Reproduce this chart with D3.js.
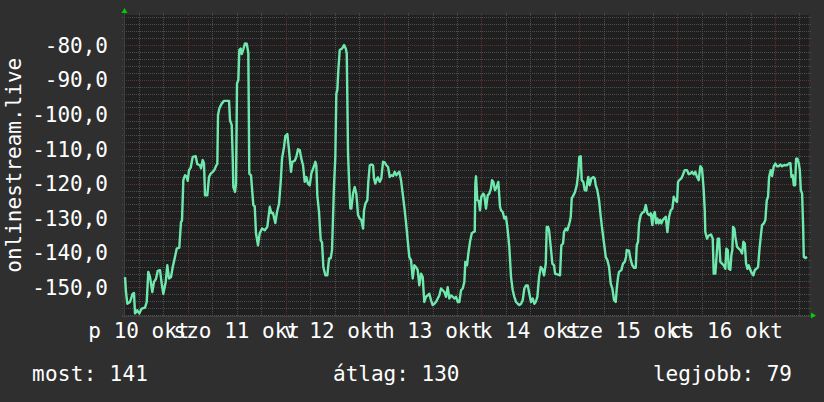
<!DOCTYPE html>
<html lang="hu">
<head>
<meta charset="utf-8">
<title>onlinestream.live</title>
<script src="https://cdn.jsdelivr.net/npm/d3@7"></script>
<style>
  html, body { margin: 0; padding: 0; background: #2f2f2f; }
  svg { display: block; }
  text { font-family: "DejaVu Sans Mono", monospace; fill: #ffffff; }
</style>
</head>
<body>
<script>
// ---- data (hours since start, value) ----
var hours = [
  0.25,0.49,0.81,1.47,2.13,2.45,2.70,3.26,3.75,4.34,5.15,5.57,5.96,6.38,6.94,7.36,7.85,8.27,8.83,9.25,
  9.64,10.23,10.62,11.04,11.53,11.95,12.34,12.93,13.56,13.98,14.23,14.55,14.96,15.38,15.62,15.94,16.36,16.85,17.59,17.98,
  18.64,18.89,19.30,19.62,19.87,20.43,20.85,21.27,21.76,22.15,22.57,22.89,23.06,23.38,23.96,24.53,25.76,26.00,26.42,26.66,
  26.81,27.23,27.47,27.72,28.04,28.28,28.63,28.87,29.26,29.68,30.10,30.49,30.73,31.15,31.72,32.06,32.38,32.80,
  32.86,33.28,33.85,34.51,35.15,35.74,36.13,36.54,37.11,37.53,38.02,38.44,38.76,39.25,39.57,40.06,40.47,40.96,41.28,41.87,
  42.26,42.68,43.10,43.49,43.91,44.32,44.72,45.13,45.55,45.94,46.53,46.92,47.17,47.41,47.83,48.25,48.57,48.89,49.38,49.87,
  50.29,50.70,51.02,51.27,51.51,51.83,52.08,52.32,52.57,52.91,53.48,53.97,54.39,54.63,54.95,55.19,55.51,55.76,56.17,56.59,
  56.98,57.40,57.82,58.21,58.63,58.87,59.19,59.68,59.92,60.27,60.66,61.08,61.32,61.64,62.06,62.30,62.72,63.11,63.53,63.95,
  64.34,64.76,65.17,65.56,65.98,66.39,66.79,
  67.13,67.52,67.94,68.35,68.75,69.16,69.58,69.97,70.39,70.81,71.20,71.62,72.03,72.43,72.84,73.26,73.65,74.07,74.49,74.88,
  75.30,75.71,76.11,76.52,76.94,77.33,77.75,78.17,78.56,78.98,79.39,79.79,80.20,80.62,81.01,81.43,81.85,82.24,82.66,83.07,
  83.47,83.71,84.13,84.45,84.86,85.28,85.67,86.02,86.17,86.33,86.65,86.99,87.31,87.63,88.12,88.37,88.78,89.20,89.59,90.01,
  90.26,90.58,90.99,91.41,91.80,92.22,92.47,92.88,93.28,93.69,94.11,94.50,94.92,95.34,95.73,96.15,96.57,96.96,97.38,97.79,
  98.19,98.60,99.02,99.41,99.83,100.25,100.64,
  100.98,101.38,101.79,102.21,102.60,103.02,103.44,103.68,104.00,104.25,104.66,105.06,105.47,105.72,106.28,106.94,107.26,107.68,107.92,108.34,
  108.73,108.98,109.32,109.57,109.81,110.21,110.62,111.04,111.35,111.67,112.01,112.26,112.65,113.00,113.39,113.64,113.88,114.22,114.62,115.11,
  115.45,115.70,116.09,116.51,116.93,117.32,117.74,118.15,118.55,118.96,119.38,119.77,120.19,120.61,120.85,121.17,121.41,121.98,122.39,122.81,
  123.13,123.30,123.86,124.28,124.67,125.09,125.51,125.76,126.07,126.32,126.74,127.13,127.55,127.97,128.36,128.78,129.20,129.59,129.83,130.18,
  130.50,130.82,131.16,131.48,131.80,132.14,132.46,132.87,133.27,133.68,134.10,134.49,
  134.83,135.22,135.64,135.88,136.20,136.69,137.03,137.52,138.08,138.50,138.89,139.31,139.73,140.12,140.54,140.95,141.35,141.76,142.18,142.43,
  142.57,142.99,143.41,143.97,144.39,144.63,145.03,145.27,145.62,145.94,146.26,146.68,147.09,147.48,147.73,148.07,148.32,148.71,148.96,149.20,
  149.38,149.70,149.94,150.36,150.78,151.17,151.59,151.91,152.25,152.57,152.89,153.23,153.62,154.04,154.36,154.70,155.09,155.51,155.83,156.25,
  156.49,156.91,157.30,157.64,157.96,158.21,158.62,158.94,159.36,159.75,160.17,160.59,160.98,161.40,161.82,162.21,162.63,163.05,163.44,163.69,
  164.03,164.28,164.60,164.84,165.16,165.50,165.75,165.99,166.31,166.56,166.73,167.12,167.54
];
var values = [
  -147.0,-151.3,-154.7,-154.2,-151.8,-151.6,-157.5,-156.6,-157.5,-156.1,-155.8,-154.2,-145.5,-147.0,-151.3,-148.4,-147.5,-145.2,-145.0,-148.9,
  -151.8,-148.4,-143.6,-147.4,-147.0,-144.1,-142.1,-138.8,-138.5,-131.1,-130.6,-119.0,-117.6,-118.0,-119.2,-116.1,-115.4,-112.3,-112.1,-114.4,
  -114.7,-115.6,-113.2,-114.1,-123.4,-123.4,-118.1,-117.1,-116.6,-116.1,-114.9,-114.3,-100.2,-98.3,-96.9,-96.1,-96.1,-101.7,-103.1,-112.3,
  -121.0,-122.4,-120.0,-91.1,-90.1,-81.4,-81.0,-82.6,-81.2,-79.5,-79.6,-82.2,-117.1,-117.6,-126.2,-126.6,-134.4,-137.3,
  -137.8,-134.4,-133.0,-133.5,-132.5,-126.7,-128.5,-128.5,-131.4,-128.2,-125.8,-119.5,-112.8,-109.4,-106.3,-105.7,-110.3,-116.6,-113.7,-113.4,
  -112.3,-110.1,-110.3,-112.8,-114.7,-119.5,-118.1,-120.0,-120.5,-117.1,-115.2,-113.7,-114.7,-123.4,-128.2,-136.4,-137.0,-144.1,-146.5,-146.5,
  -141.6,-141.6,-139.2,-129.6,-120.5,-112.3,-94.0,-93.0,-87.2,-81.4,-81.0,-80.0,-81.0,-82.4,-111.3,-119.0,-127.2,-127.2,-122.9,-121.0,
  -122.9,-129.1,-130.1,-130.5,-133.0,-127.7,-125.8,-124.8,-119.5,-114.7,-114.5,-114.7,-118.5,-120.0,-118.5,-118.2,-119.5,-118.5,-113.7,-113.9,
  -114.7,-115.2,-118.1,-117.6,-117.8,-116.6,-117.6,
  -117.1,-116.6,-119.0,-122.9,-126.7,-131.1,-136.4,-141.2,-142.1,-147.4,-143.6,-144.1,-145.0,-149.4,-146.0,-147.0,-154.2,-152.7,-152.3,-151.8,
  -153.7,-155.1,-154.7,-154.2,-153.2,-152.3,-150.3,-150.8,-151.3,-152.7,-149.9,-153.2,-152.3,-152.7,-153.2,-152.7,-154.2,-154.2,-150.8,-150.3,
  -148.4,-142.6,-143.6,-140.2,-136.8,-134.4,-134.0,-133.8,-120.0,-117.9,-124.8,-125.0,-127.7,-123.8,-122.9,-123.4,-127.2,-123.4,-122.9,-121.4,
  -119.0,-119.5,-121.9,-120.9,-119.5,-126.7,-127.7,-128.2,-130.1,-129.6,-133.5,-138.3,-147.0,-150.8,-152.7,-154.2,-154.7,-155.1,-154.7,-153.7,
  -150.3,-149.4,-149.4,-151.8,-154.2,-153.2,-154.7,
  -154.2,-152.7,-147.0,-144.1,-144.6,-146.5,-143.1,-132.5,-132.5,-133.5,-138.3,-143.1,-143.6,-146.0,-146.2,-146.5,-137.8,-137.3,-134.0,-133.0,
  -133.5,-132.5,-131.1,-129.6,-124.3,-123.4,-122.4,-120.5,-117.6,-112.3,-112.1,-119.0,-119.5,-121.9,-122.0,-119.5,-118.1,-120.5,-118.5,-118.1,
  -118.5,-120.5,-121.9,-124.8,-129.6,-133.5,-137.3,-141.2,-142.1,-144.1,-148.9,-150.3,-153.7,-154.2,-150.3,-147.0,-145.5,-145.0,-143.1,-142.6,
  -141.2,-139.2,-139.4,-142.1,-143.6,-144.3,-144.3,-137.8,-136.8,-131.5,-129.1,-128.4,-128.2,-126.2,-128.6,-129.1,-128.6,-132.0,-129.1,-128.2,
  -131.5,-130.1,-131.5,-130.5,-131.5,-130.5,-130.1,-129.6,-134.0,-129.6,-127.7,-127.2,
  -123.8,-124.8,-125.3,-119.5,-119.0,-118.5,-117.6,-116.1,-116.1,-117.3,-117.1,-116.6,-117.3,-116.6,-118.1,-119.0,-115.0,-115.7,-121.9,-127.7,
  -134.0,-135.9,-135.0,-134.7,-135.9,-146.0,-146.0,-142.1,-135.9,-135.9,-142.6,-143.1,-143.6,-144.6,-138.8,-139.2,-144.6,-144.9,-140.7,-139.2,
  -132.5,-133.0,-135.4,-138.3,-138.8,-139.2,-140.2,-136.8,-137.3,-143.1,-144.6,-143.6,-145.0,-146.0,-146.5,-145.0,-144.6,-144.1,-139.2,-134.4,
  -132.0,-131.5,-130.5,-124.8,-123.8,-118.1,-116.1,-117.8,-115.0,-114.2,-115.0,-115.0,-114.5,-115.0,-114.7,-114.7,-114.7,-114.2,-114.1,-118.1,
  -117.6,-120.5,-120.5,-112.8,-112.8,-114.2,-116.1,-121.9,-122.9,-132.5,-141.2,-141.5,-141.2
];

var yTicks = [-150, -140, -130, -120, -110, -100, -90, -80];
var yLabels = ["-150,0", "-140,0", "-130,0", "-120,0", "-110,0", "-100,0", "-90,0", "-80,0"];
var dayLabels = ["p 10 okt", "szo 11 okt", "v 12 okt", "h 13 okt", "k 14 okt", "sze 15 okt", "cs 16 okt"];
var dayNums = [10, 11, 12, 13, 14, 15, 16];
var yTitle = "onlinestream.live";
var footer = ["most: 141", "átlag: 130", "legjobb: 79"];

var width = 824, height = 402;
var plot = {left: 124, right: 809, top: 15, bottom: 315.5};

var start = new Date(2025, 9, 10, 8, 20);
var end = new Date(2025, 9, 17, 8, 20);

var x = d3.scaleTime().domain([start, end]).range([plot.left, plot.right]);
var y = d3.scaleLinear().domain([-158.1, -71.3]).range([plot.bottom, plot.top]);

var svg = d3.select("body").append("svg")
  .attr("width", width).attr("height", height);

svg.append("rect").attr("width", width).attr("height", height).attr("fill", "#2f2f2f");
svg.append("rect")
  .attr("x", plot.left).attr("y", plot.top)
  .attr("width", plot.right - plot.left).attr("height", plot.bottom - plot.top)
  .attr("fill", "#1f1f1f");

var grid = svg.append("g").attr("shape-rendering", "crispEdges");

// minor horizontal grid, every 2
var minorY = d3.range(-158, -71, 2).filter(function(v){ return v % 10 != 0; });
grid.selectAll("line.hmin").data(minorY).enter().append("line")
  .attr("x1", plot.left - 2).attr("x2", plot.right + 2)
  .attr("y1", function(d){ return Math.round(y(d)) + 0.5; })
  .attr("y2", function(d){ return Math.round(y(d)) + 0.5; })
  .attr("stroke", "#4e4e4e").attr("stroke-dasharray", "1,1");

// minor vertical grid, every 6 hours
var minorX = d3.timeHour.every(6).range(start, end).filter(function(d){ return d.getHours() != 0; });
grid.selectAll("line.vmin").data(minorX).enter().append("line")
  .attr("x1", function(d){ return Math.round(x(d)) + 0.5; })
  .attr("x2", function(d){ return Math.round(x(d)) + 0.5; })
  .attr("y1", plot.top - 2).attr("y2", plot.bottom)
  .attr("stroke", "#4e4e4e").attr("stroke-dasharray", "1,1");

// major horizontal grid
grid.selectAll("line.hmaj").data(yTicks).enter().append("line")
  .attr("x1", plot.left - 2).attr("x2", plot.right + 2)
  .attr("y1", function(d){ return Math.round(y(d)) + 0.5; })
  .attr("y2", function(d){ return Math.round(y(d)) + 0.5; })
  .attr("stroke", "#633030").attr("stroke-dasharray", "1,1");

// major vertical grid, midnight
var majorX = d3.timeDay.range(start, end);
grid.selectAll("line.vmaj").data(majorX).enter().append("line")
  .attr("x1", function(d){ return Math.round(x(d)) + 0.5; })
  .attr("x2", function(d){ return Math.round(x(d)) + 0.5; })
  .attr("y1", plot.top - 2).attr("y2", plot.bottom)
  .attr("stroke", "#633030").attr("stroke-dasharray", "1,1");

// axes
grid.append("line").attr("x1", plot.left - 2).attr("x2", plot.right + 4)
  .attr("y1", plot.bottom + 0.5).attr("y2", plot.bottom + 0.5).attr("stroke", "#404040");
grid.append("line").attr("x1", plot.left + 0.5).attr("x2", plot.left + 0.5)
  .attr("y1", plot.top - 4).attr("y2", plot.bottom + 2).attr("stroke", "#404040");

// arrows
svg.append("path").attr("fill", "#00d000")
  .attr("d", d3.line()([[plot.left - 2.5, 13], [plot.left + 3.5, 13], [plot.left + 0.5, 8]]) + "Z");
svg.append("path").attr("fill", "#00d000")
  .attr("d", d3.line()([[plot.right + 2, plot.bottom - 3], [plot.right + 2, plot.bottom + 3], [plot.right + 7, plot.bottom]]) + "Z");

// data line
var pts = hours.map(function(h, i){ return [new Date(start.getTime() + h * 3600e3), values[i]]; });
svg.append("path")
  .datum(pts)
  .attr("fill", "none")
  .attr("stroke", "#6fe8ae")
  .attr("stroke-width", 2.4)
  .attr("stroke-linejoin", "round")
  .attr("d", d3.line().x(function(d){ return x(d[0]); }).y(function(d){ return y(d[1]); }));

// y labels
svg.selectAll("text.ylab").data(yTicks).enter().append("text")
  .attr("x", 108).attr("y", function(d){ return y(d); })
  .attr("dy", "0.36em")
  .attr("text-anchor", "end")
  .attr("font-size", 21)
  .text(function(d, i){ return yLabels[i]; });

// x labels at noon
svg.selectAll("text.xlab").data(dayNums).enter().append("text")
  .attr("x", function(d){ return x(new Date(2025, 9, d, 12, 0)); })
  .attr("y", 338)
  .attr("text-anchor", "middle")
  .attr("font-size", 21)
  .text(function(d, i){ return dayLabels[i]; });

// y title
svg.append("text")
  .attr("transform", "translate(21," + ((plot.top + plot.bottom) / 2) + ") rotate(-90)")
  .attr("text-anchor", "middle")
  .attr("font-size", 21)
  .text(yTitle);

// footer
svg.append("text").attr("x", 32).attr("y", 381).attr("font-size", 21).attr("textLength", 116).text(footer[0]);
svg.append("text").attr("x", 333).attr("y", 381).attr("font-size", 21).text(footer[1]);
svg.append("text").attr("x", 792).attr("y", 381).attr("font-size", 21).attr("text-anchor", "end").text(footer[2]);
</script>
</body>
</html>
